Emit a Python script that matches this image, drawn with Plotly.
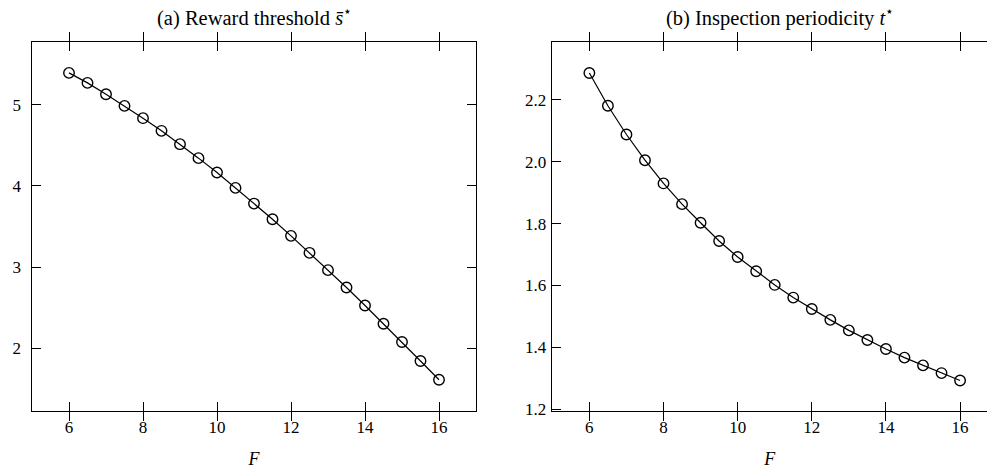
import plotly.graph_objects as go

F = [6, 6.5, 7, 7.5, 8, 8.5, 9, 9.5, 10, 10.5, 11, 11.5, 12, 12.5, 13, 13.5, 14, 14.5, 15, 15.5, 16]
s_bar = [5.39, 5.267, 5.128, 4.984, 4.833, 4.677, 4.513, 4.341, 4.164, 3.975, 3.782, 3.59,
         3.385, 3.176, 2.963, 2.749, 2.528, 2.303, 2.079, 1.845, 1.615]
t_star = [2.287, 2.181, 2.088, 2.005, 1.930, 1.863, 1.803, 1.744, 1.692, 1.646, 1.602, 1.561,
          1.524, 1.489, 1.455, 1.424, 1.395, 1.367, 1.342, 1.317, 1.293]
x_ticks = [6, 8, 10, 12, 14, 16]
y1_ticks = [2, 3, 4, 5]
y2_ticks = [1.2, 1.4, 1.6, 1.8, 2.0, 2.2]

W, H = 987, 472
ML, MT, MB = 0, 42, 61
plot_w = W - ML
plot_h = H - MT - MB
font = "Liberation Serif"

def px(x):
    return (x - ML) / plot_w

fig = go.Figure()
for xa, ya, yv in (("x", "y", s_bar), ("x2", "y2", t_star)):
    fig.add_trace(go.Scatter(x=F, y=yv, mode="lines+markers", xaxis=xa, yaxis=ya,
                             line=dict(color="black", width=1.2),
                             marker=dict(symbol="circle-open", size=10.5, color="black", line=dict(width=1.4)),
                             showlegend=False))
# invisible companions so the label-only axes are drawn
for xa, ya, yv in (("x", "y3", s_bar), ("x2", "y4", t_star)):
    fig.add_trace(go.Scatter(x=F, y=yv, mode="lines", xaxis=xa, yaxis=ya,
                             line=dict(color="rgba(0,0,0,0)", width=0), hoverinfo="skip",
                             showlegend=False))

d1 = [px(32), px(476)]
d2 = [px(552.3), 1]
y1_range = [1.23, 5.77]
y2_range = [1.1945, 2.387]

axcommon = dict(showline=True, linecolor="black", linewidth=1.3, ticks="inside", ticklen=9,
                tickcolor="black", tickwidth=1.3, showgrid=False, zeroline=False,
                tickfont=dict(family=font, size=17, color="black"))
labcommon = dict(showline=False, ticks="", showgrid=False, zeroline=False, anchor="free",
                 side="left", tickfont=dict(family=font, size=17, color="black"))
xtitle = dict(text="<i>F</i>", font=dict(family=font, size=18, color="black"), standoff=16)

fig.update_layout(
    width=W, height=H,
    margin=dict(l=ML, r=0, t=MT, b=MB),
    plot_bgcolor="white", paper_bgcolor="white",
    font=dict(family=font, size=17, color="black"),
    xaxis=dict(domain=d1, range=[5, 17], tickvals=x_ticks, mirror="allticks",
               anchor="y", title=xtitle, **axcommon),
    yaxis=dict(domain=[0, 1], range=y1_range, tickvals=y1_ticks, mirror="allticks",
               anchor="x", showticklabels=False, **axcommon),
    yaxis3=dict(domain=[0, 1], range=y1_range, tickvals=y1_ticks, overlaying="y",
                position=px(32 - 11), **labcommon),
    xaxis2=dict(domain=d2, range=[5, 5 + (W - 552.3) / 37.07], tickvals=x_ticks,
                mirror="allticks", anchor="y2", title=xtitle, **axcommon),
    yaxis2=dict(domain=[0, 1], range=y2_range, tickvals=y2_ticks, mirror=False,
                anchor="x2", showticklabels=False, **axcommon),
    yaxis4=dict(domain=[0, 1], range=y2_range, tickvals=y2_ticks, tickformat=".1f",
                overlaying="y2", position=px(552.3 - 6), **labcommon),
    annotations=[
        dict(text="(a) Reward threshold <i>s̄</i><sup>⋆</sup>", x=px(254),
             y=1 + (MT - 16) / plot_h, xref="paper", yref="paper", xanchor="center", yanchor="middle",
             showarrow=False, font=dict(family=font, size=20.5, color="black")),
        dict(text="(b) Inspection periodicity <i>t</i><sup>⋆</sup>", x=px(780),
             y=1 + (MT - 16) / plot_h, xref="paper", yref="paper", xanchor="center", yanchor="middle",
             showarrow=False, font=dict(family=font, size=20.5, color="black")),
    ],
)

fig.write_html("out.html")
